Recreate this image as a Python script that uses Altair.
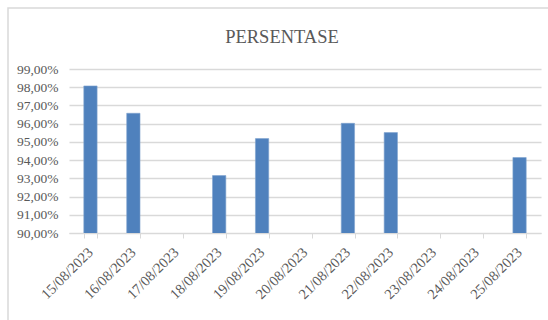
import altair as alt
import pandas as pd

dates = ["15/08/2023", "16/08/2023", "17/08/2023", "18/08/2023", "19/08/2023",
         "20/08/2023", "21/08/2023", "22/08/2023", "23/08/2023", "24/08/2023",
         "25/08/2023"]
persentase = [98.07, 96.57, None, 93.15, 95.18, None, 96.02, 95.51, None, None, 94.14]
y_ticks = [90, 91, 92, 93, 94, 95, 96, 97, 98, 99]
title_text = "PERSENTASE"

df = pd.DataFrame({"tanggal": dates, "persentase": persentase})

FONT = "Liberation Serif"
GRAY = "#595959"
LINE = "#D9D9D9"

frame = alt.Chart(alt.Data(values=[{}])).mark_rect(
    fill=None, stroke=LINE, strokeWidth=1.5
).encode(
    x=alt.value(-61), x2=alt.value(600), y=alt.value(-61), y2=alt.value(400)
)

title = alt.Chart(alt.Data(values=[{"t": title_text}])).mark_text(
    font=FONT, fontSize=18.5, color=GRAY, align="center", baseline="middle"
).encode(text="t:N", x=alt.value(213), y=alt.value(-32))

bars = alt.Chart(df).mark_bar(color="#4F81BD", stroke="#7FA3CF", strokeWidth=0.6, clip=True).encode(
    x=alt.X("tanggal:N", sort=dates, title=None,
            scale=alt.Scale(paddingInner=0.69, paddingOuter=0.345),
            axis=alt.Axis(labelAngle=-45, labelAlign="right", labelBaseline="middle",
                          labelFont=FONT, labelFontSize=14.5, labelColor=GRAY,
                          labelPadding=12, tickBand="extent", tickColor=LINE,
                          tickSize=5, domainColor=LINE, grid=False)),
    y=alt.Y("persentase:Q", title=None,
            scale=alt.Scale(domain=[90, 99], nice=False, zero=False),
            axis=alt.Axis(values=y_ticks, labelExpr="replace(format(datum.value, '.2f'), '.', ',') + '%'",
                          labelFont=FONT, labelFontSize=13.5, labelColor=GRAY,
                          labelPadding=11, ticks=False, domain=False,
                          gridColor=LINE, gridWidth=1.4)),
)

chart = alt.layer(bars, frame, title).properties(
    width=472, height=164,
    padding={"left": 69, "top": 69, "right": 7, "bottom": 87},
    autosize=alt.AutoSizeParams(type="none"),
).configure_view(stroke=None)

chart.save("out.html", embed_options={"renderer": "svg", "actions": False})
